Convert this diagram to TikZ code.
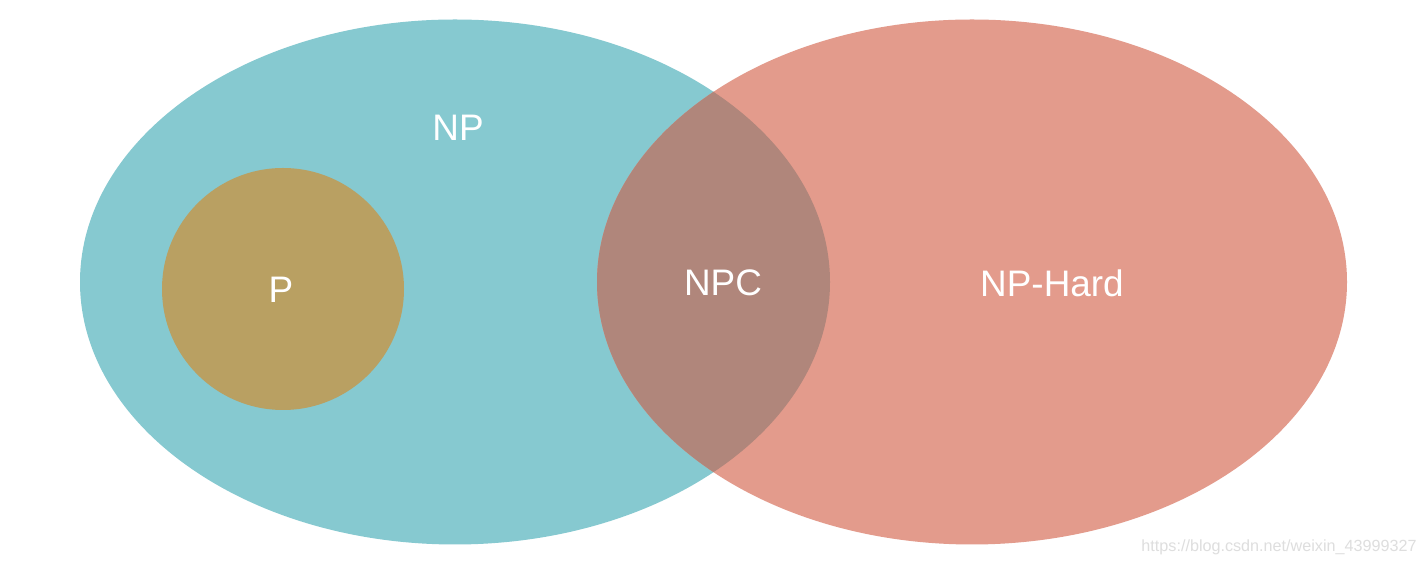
\documentclass[tikz,border=0pt]{standalone}
\usepackage{fontspec}
\setmainfont{Liberation Sans}
\usepackage{tikz}
\usetikzlibrary{positioning}
\usepackage{xcolor}
\definecolor{npteal}{RGB}{134,201,208}
\definecolor{hardsalmon}{RGB}{227,155,140}
\definecolor{npcbrown}{RGB}{176,134,123}
\definecolor{pgold}{RGB}{185,160,98}
\definecolor{wmgray}{RGB}{222,222,222}

\begin{document}
\begin{tikzpicture}[lbl/.style={font=\fontsize{21}{24}\selectfont,text=white}]
    \useasboundingbox (0,0) rectangle (28.48,11.32);
    \fill[white] (0,0) rectangle (28.48,11.32);
    \fill[npteal] (9.10,5.68) ellipse (7.50 and 5.25);
    \fill[hardsalmon] (19.44,5.68) ellipse (7.50 and 5.25);
    \begin{scope}
      \clip (9.10,5.68) ellipse (7.50 and 5.25);
      \fill[npcbrown] (19.44,5.68) ellipse (7.50 and 5.25);
    \end{scope}
    \fill[pgold] (5.66,5.54) circle (2.42);
    \node[lbl] (np) at (9.16,8.76) {NP};
    \node[lbl] (p) at (5.62,5.52) {P};
    \node[lbl] (npc) at (14.46,5.66) {NPC};
    \node[lbl] (nphard) at (21.04,5.66) {NP-Hard};
    \node[font=\fontsize{9.2}{11}\selectfont,text=wmgray] (wm) at (25.58,0.38) {https://blog.csdn.net/weixin\_43999327};
  \end{tikzpicture}
\end{document}
